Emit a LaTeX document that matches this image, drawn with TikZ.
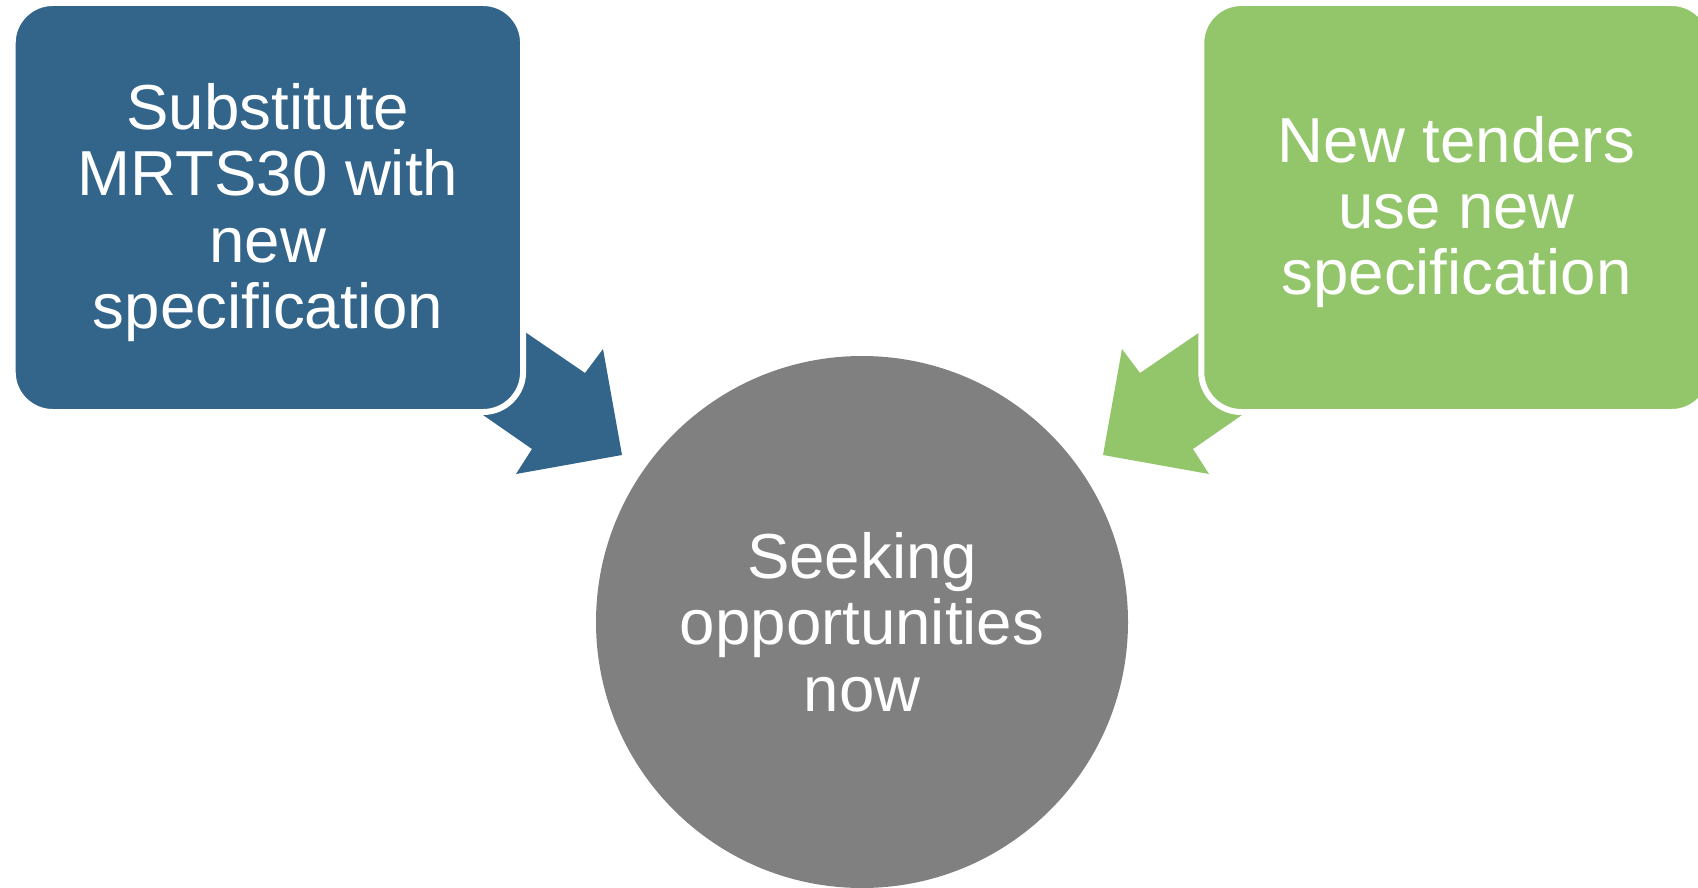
\documentclass[tikz,border=0pt]{standalone}
\usepackage{fontspec}
\setmainfont{Liberation Sans}
\definecolor{boxblue}{RGB}{51,100,138}
\definecolor{boxgreen}{RGB}{147,198,107}
\definecolor{circgray}{RGB}{128,128,128}
\tikzset{
  box/.style={draw=white, line width=3pt, rounded corners=20pt, inner sep=0pt,
    minimum width=255.2pt, minimum height=204.5pt},
  boxtext/.style={text=white, align=center, inner sep=0pt,
    font=\fontsize{31.8pt}{33.2pt}\selectfont},
  circ/.style={circle, fill=circgray, draw=none, inner sep=0pt, minimum size=266pt,
    text=white, align=center, font=\fontsize{31.8pt}{33.2pt}\selectfont}
}
\begin{document}
\begin{tikzpicture}[x=0.5pt,y=-0.5pt]
\useasboundingbox (0,0) rectangle (1698,888);
% arrows
\fill[boxblue] (437.5,273) -- (526.5,333) -- (585,373) -- (603,349) -- (622,455)
  -- (516,474) -- (532,449) -- (483,415) -- (409.5,364) -- cycle;
\fill[boxgreen] (1287.5,273) -- (1198.5,333) -- (1140,373) -- (1122,349) -- (1103,455)
  -- (1209,474) -- (1193,449) -- (1242,415) -- (1315.5,364) -- cycle;
% boxes
\node[box, fill=boxblue] (left) at (267.9,207.5) {};
\node[boxtext] (lefttext) at ([yshift=-2.5pt]left.center)
  {Substitute\\MRTS30 with\\new\\specification};
\node[box, fill=boxgreen] (right) at (1456.5,207.5) {};
\node[boxtext] (righttext) at ([yshift=-2.3pt]right.center)
  {New tenders\\use new\\specification};
% circle
\node[circ] (center) at (862,622) {Seeking\\opportunities\\now};
\end{tikzpicture}
\end{document}
